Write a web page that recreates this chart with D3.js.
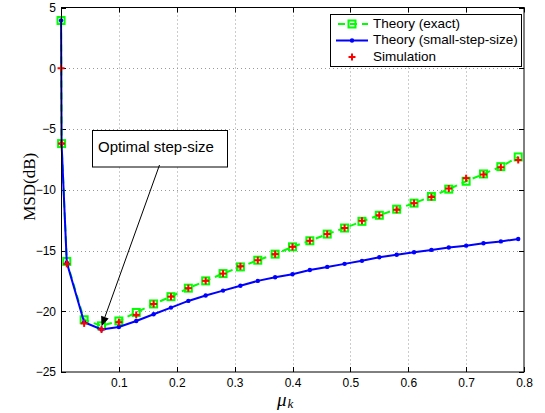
<!DOCTYPE html>
<html><head><meta charset="utf-8">
<script src="https://cdn.jsdelivr.net/npm/d3@7"></script>
<style>body{margin:0;background:#fff}svg{display:block}</style>
</head><body>
<svg id="c" width="545" height="413"></svg>
<script>
const mu = [0.0001, 0.001, 0.01, 0.04, 0.07, 0.10, 0.13, 0.16, 0.19, 0.22, 0.25, 0.28, 0.31, 0.34, 0.37, 0.40, 0.43, 0.46, 0.49, 0.52, 0.55, 0.58, 0.61, 0.64, 0.67, 0.70, 0.73, 0.76, 0.79];
const theoryExact = [3.93, -6.2, -15.9, -20.7, -21.2, -20.8, -20.1, -19.4, -18.8, -18.1, -17.5, -16.9, -16.35, -15.8, -15.3, -14.7, -14.2, -13.65, -13.15, -12.6, -12.1, -11.6, -11.1, -10.55, -9.95, -9.3, -8.7, -8.1, -7.3];
const theorySmall = [3.93, -6.2, -16.0, -20.9, -21.5, -21.3, -20.8, -20.25, -19.7, -19.15, -18.7, -18.3, -17.9, -17.5, -17.2, -16.95, -16.6, -16.35, -16.1, -15.85, -15.55, -15.35, -15.15, -14.95, -14.75, -14.6, -14.4, -14.25, -14.05];
const simulation = [0, -6.2, -16.1, -21.0, -21.5, -20.9, -20.3, -19.4, -18.8, -18.1, -17.5, -16.9, -16.3, -15.8, -15.3, -14.7, -14.2, -13.65, -13.15, -12.55, -12.1, -11.65, -11.1, -10.6, -9.9, -9.05, -8.75, -8.15, -7.55];
const xTicks = [0.1, 0.2, 0.3, 0.4, 0.5, 0.6, 0.7, 0.8];
const yTicks = [5, 0, -5, -10, -15, -20, -25];
const legendLabels = ["Theory (exact)", "Theory (small-step-size)", "Simulation"];
const annotationText = "Optimal step-size";
const optimalIndex = 4;

const L = 61, R = 524, T = 7.5, B = 372;
const x = d3.scaleLinear().domain([0, 0.8]).range([L, R]);
const y = d3.scaleLinear().domain([-25, 5]).range([B, T]);
const svg = d3.select("#c");
const sans = "'Liberation Sans', Arial, Helvetica, sans-serif";
const serif = "'Liberation Serif', 'Times New Roman', serif";

// grid
const grid = svg.append("g").attr("stroke", "#999").attr("stroke-width", 1).attr("stroke-dasharray", "1,3");
xTicks.forEach(t => { if (t < 0.8) grid.append("line").attr("x1", Math.round(x(t)) + 0.5).attr("x2", Math.round(x(t)) + 0.5).attr("y1", T).attr("y2", B); });
yTicks.forEach(t => { if (t > -25 && t < 5) grid.append("line").attr("y1", Math.round(y(t)) + 0.5).attr("y2", Math.round(y(t)) + 0.5).attr("x1", L).attr("x2", R); });

// axes
const xAxis = d3.axisBottom(x).tickValues(xTicks).tickSize(0).tickPadding(6).tickFormat(d3.format(".1f"));
const gx = svg.append("g").attr("transform", `translate(0,${B})`).call(xAxis);
gx.select(".domain").remove();
gx.selectAll("text").attr("font-family", sans).attr("font-size", 12).attr("fill", "#000");
const yAxis = d3.axisLeft(y).tickValues(yTicks).tickSize(0).tickPadding(5).tickFormat(d => d < 0 ? "\u2212" + Math.abs(d) : String(d));
const gy = svg.append("g").attr("transform", `translate(${L},0)`).call(yAxis);
gy.select(".domain").remove();
gy.selectAll("text").attr("font-family", sans).attr("font-size", 12).attr("fill", "#000");

// inward ticks on all sides
const tk = svg.append("g").attr("stroke", "#000").attr("stroke-width", 1);
xTicks.forEach(t => {
  const px = Math.round(x(t)) + 0.5;
  tk.append("line").attr("x1", px).attr("x2", px).attr("y1", B).attr("y2", B - 5);
  tk.append("line").attr("x1", px).attr("x2", px).attr("y1", T).attr("y2", T + 5);
});
yTicks.forEach(t => {
  const py = Math.round(y(t)) + 0.5;
  tk.append("line").attr("y1", py).attr("y2", py).attr("x1", L).attr("x2", L + 5);
  tk.append("line").attr("y1", py).attr("y2", py).attr("x1", R).attr("x2", R - 5);
});

const plot = svg.append("g");
const line = d3.line().x((d, i) => x(mu[i])).y(d => y(d));

// Theory exact: green dashed with squares
plot.append("path").datum(theoryExact).attr("d", line).attr("fill", "none").attr("stroke", "#00ff00").attr("stroke-width", 2).attr("stroke-dasharray", "7,5");
plot.selectAll(".sq").data(theoryExact).enter().append("rect")
  .attr("x", (d, i) => x(mu[i]) - 3.5).attr("y", d => y(d) - 3.5).attr("width", 7).attr("height", 7)
  .attr("fill", "none").attr("stroke", "#00ff00").attr("stroke-width", 2);

// Theory small-step: blue solid with dots
plot.append("path").datum(theorySmall).attr("d", line).attr("fill", "none").attr("stroke", "#0000ff").attr("stroke-width", 2);
plot.selectAll(".dot").data(theorySmall).enter().append("circle")
  .attr("cx", (d, i) => x(mu[i])).attr("cy", d => y(d)).attr("r", 2.2).attr("fill", "#0000ff");

// Simulation: red plus
const plus = (g, cx, cy, s) => {
  g.append("line").attr("x1", cx - s).attr("x2", cx + s).attr("y1", cy).attr("y2", cy);
  g.append("line").attr("x1", cx).attr("x2", cx).attr("y1", cy - s).attr("y2", cy + s);
};
const pg = plot.append("g").attr("stroke", "#ff0000").attr("stroke-width", 2);
simulation.forEach((d, i) => plus(pg, x(mu[i]), y(d), 3.5));

// box
svg.append("rect").attr("x", L + 0.5).attr("y", T).attr("width", R - L - 0.5).attr("height", B - T).attr("fill", "none").attr("stroke", "#000").attr("stroke-width", 1);

// axis labels
svg.append("text").attr("transform", `translate(35,${(T + B) / 2 - 3}) rotate(-90)`).attr("text-anchor", "middle")
  .attr("font-family", serif).attr("font-size", 17).attr("fill", "#000").text("MSD(dB)");
const xl = svg.append("text").attr("x", 277).attr("y", 406).attr("font-family", serif).attr("fill", "#000");
xl.append("tspan").attr("font-size", 19).attr("font-style", "italic").text("\u03bc");
xl.append("tspan").attr("font-size", 13).attr("font-style", "italic").attr("dx", 1).attr("dy", 2).text("k");

// annotation
const tip = [x(mu[optimalIndex]), y(theorySmall[optimalIndex]) - 3];
const start = [159.5, 165];
svg.append("rect").attr("x", 92.5).attr("y", 130.5).attr("width", 135).attr("height", 36.5).attr("fill", "#fff").attr("stroke", "#000").attr("stroke-width", 1);
svg.append("text").attr("x", 98).attr("y", 148).attr("dominant-baseline", "middle").attr("font-family", sans).attr("font-size", 15).attr("fill", "#000").text(annotationText);
const ang = Math.atan2(tip[1] - start[1], tip[0] - start[0]);
const ah = 10, aw = 4;
const bx = tip[0] - ah * Math.cos(ang), by = tip[1] - ah * Math.sin(ang);
svg.append("line").attr("x1", start[0]).attr("y1", start[1]).attr("x2", bx).attr("y2", by).attr("stroke", "#000").attr("stroke-width", 1);
svg.append("path").attr("d", `M${tip[0]},${tip[1]} L${bx + aw * Math.sin(ang)},${by - aw * Math.cos(ang)} L${bx - aw * Math.sin(ang)},${by + aw * Math.cos(ang)} Z`).attr("fill", "#000");

// legend
const lg = svg.append("g");
lg.append("rect").attr("x", 330.5).attr("y", 14.5).attr("width", 191).attr("height", 52).attr("fill", "#fff").attr("stroke", "#000").attr("stroke-width", 1);
const rows = [24, 40.5, 57];
const lx1 = 336, lx2 = 368, lm = (lx1 + lx2) / 2;
lg.append("line").attr("x1", lx1).attr("x2", lx2).attr("y1", rows[0]).attr("y2", rows[0]).attr("stroke", "#00ff00").attr("stroke-width", 2).attr("stroke-dasharray", "7,5").attr("stroke-dashoffset", -2);
lg.append("rect").attr("x", lm - 3.5).attr("y", rows[0] - 3.5).attr("width", 7).attr("height", 7).attr("fill", "none").attr("stroke", "#00ff00").attr("stroke-width", 2);
lg.append("line").attr("x1", lx1).attr("x2", lx2).attr("y1", rows[1]).attr("y2", rows[1]).attr("stroke", "#0000ff").attr("stroke-width", 2);
lg.append("circle").attr("cx", lm).attr("cy", rows[1]).attr("r", 2.2).attr("fill", "#0000ff");
plus(lg.append("g").attr("stroke", "#ff0000").attr("stroke-width", 2), lm, rows[2], 3.5);
legendLabels.forEach((t, i) => lg.append("text").attr("x", 373).attr("y", rows[i]).attr("dominant-baseline", "middle")
  .attr("font-family", sans).attr("font-size", 13.5).attr("fill", "#000").text(t));
</script>
</body></html>
